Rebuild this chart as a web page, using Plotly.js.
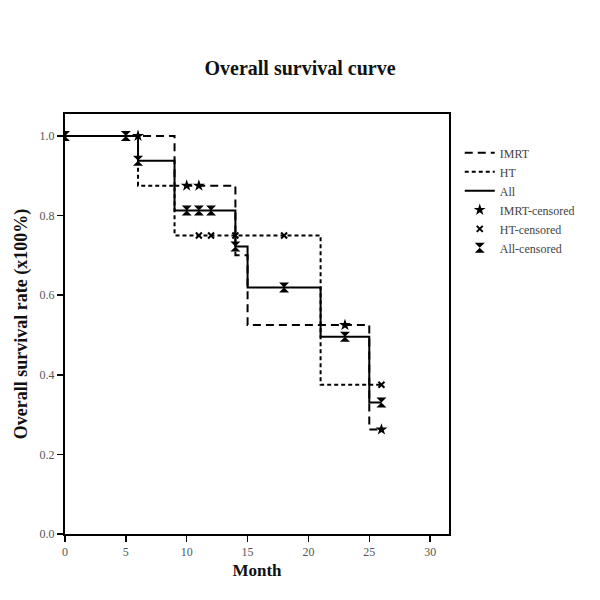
<!DOCTYPE html>
<html>
<head>
<meta charset="utf-8">
<script src="https://cdn.plot.ly/plotly-3.0.1.min.js"></script>
<style>body{margin:0;background:#fff;} #chart{width:600px;height:600px;}</style>
</head>
<body>
<div id="chart"></div>
<script>
// Kaplan-Meier step data (month, survival)
const imrtTime = [0, 9, 14, 15, 25, 26];
const imrtSurv = [1.0, 0.875, 0.7, 0.525, 0.2625, 0.2625];
const htTime = [0, 6, 9, 21, 26];
const htSurv = [1.0, 0.875, 0.75, 0.375, 0.375];
const allTime = [0, 6, 9, 14, 15, 21, 25, 26];
const allSurv = [1.0, 0.9375, 0.8125, 0.7222, 0.619, 0.4952, 0.3302, 0.3302];

// censored observations
const imrtCensTime = [6, 10, 11, 23, 26];
const imrtCensSurv = [1.0, 0.875, 0.875, 0.525, 0.2625];
const htCensTime = [11, 12, 14, 18, 26];
const htCensSurv = [0.75, 0.75, 0.75, 0.75, 0.375];
const allCensTime = [0, 5, 6, 10, 11, 12, 14, 18, 23, 26];
const allCensSurv = [1.0, 1.0, 0.9375, 0.8125, 0.8125, 0.8125, 0.7222, 0.619, 0.4952, 0.3302];

const xTicks = [0, 5, 10, 15, 20, 25, 30];
const yTicks = [0, 0.2, 0.4, 0.6, 0.8, 1.0];

const serif = "Liberation Serif, Times New Roman, serif";

const traces = [
  {x: imrtTime, y: imrtSurv, name: 'IMRT', mode: 'lines',
   line: {shape: 'hv', color: '#000', width: 2, dash: '8px,5px'}},
  {x: htTime, y: htSurv, name: 'HT', mode: 'lines',
   line: {shape: 'hv', color: '#000', width: 2, dash: '4px,3px'}},
  {x: allTime, y: allSurv, name: 'All', mode: 'lines',
   line: {shape: 'hv', color: '#000', width: 2}},
  {x: imrtCensTime, y: imrtCensSurv, name: 'IMRT-censored', mode: 'markers',
   marker: {symbol: 'star', size: 9, color: '#000'}},
  {x: htCensTime, y: htCensSurv, name: 'HT-censored', mode: 'markers',
   marker: {symbol: 'x-thin-open', size: 6, color: '#000', line: {width: 2, color: '#000'}}},
  {x: allCensTime, y: allCensSurv, name: 'All-censored', mode: 'markers',
   marker: {symbol: 'hourglass', size: 10, color: '#000'}}
];

const layout = {
  width: 600, height: 600,
  paper_bgcolor: '#fff', plot_bgcolor: '#fff',
  margin: {l: 65, r: 151, t: 114, b: 66},
  font: {family: serif, color: '#555', size: 12},
  title: {text: '<b>Overall survival curve</b>', x: 0.5, xref: 'container', xanchor: 'center',
          y: 0.887, yref: 'container', yanchor: 'middle',
          font: {family: serif, size: 20, color: '#111'}},
  showlegend: true,
  legend: {x: 1.028, xanchor: 'left', y: 0.942, yanchor: 'top',
           font: {family: serif, size: 12, color: '#444'},
           bgcolor: 'rgba(0,0,0,0)', tracegroupgap: 0},
  xaxis: {range: [0, 31.55], tickvals: xTicks, ticks: 'outside', ticklen: 6, tickwidth: 1.5,
          tickcolor: '#000', showline: true, linecolor: '#000', linewidth: 2, mirror: true,
          showgrid: false, zeroline: false,
          tickfont: {family: serif, size: 12, color: '#555'},
          title: {text: '<b>Month</b>', font: {family: serif, size: 17, color: '#111'}, standoff: 6}},
  yaxis: {range: [0, 1.055], tickvals: yTicks, tickformat: '.1f', ticks: 'outside', ticklen: 6, tickwidth: 1.5,
          tickcolor: '#000', showline: true, linecolor: '#000', linewidth: 2, mirror: true,
          showgrid: false, zeroline: false,
          tickfont: {family: serif, size: 12, color: '#555'},
          title: {text: '<b>Overall survival rate (x100%)</b>', font: {family: serif, size: 18, color: '#111'}, standoff: 7}}
};

Plotly.newPlot('chart', traces, layout, {displayModeBar: false, staticPlot: true});
</script>
</body>
</html>
